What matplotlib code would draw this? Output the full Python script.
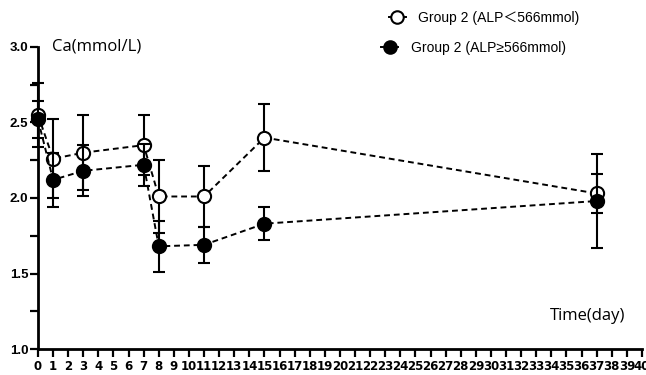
import numpy as np
import matplotlib.pyplot as plt
from matplotlib.lines import Line2D

# days of measurement
days = [0, 1, 3, 7, 8, 11, 15, 37]

# Group 2, ALP < 566
low_mean = [2.55, 2.26, 2.30, 2.35, 2.01, 2.01, 2.40, 2.03]
low_err = [0.21, 0.26, 0.25, 0.20, 0.24, 0.20, 0.22, 0.13]

# Group 2, ALP >= 566
high_mean = [2.52, 2.12, 2.18, 2.22, 1.68, 1.69, 1.83, 1.98]
high_err = [0.12, 0.18, 0.17, 0.14, 0.17, 0.12, 0.11, 0.31]

legend_labels = ["Group 2 (ALP\uff1c566mmol)", "Group 2 (ALP\u2265566mmol)"]

fig = plt.figure(figsize=(6.46, 3.75), dpi=100)
ax = fig.add_axes([0.0588, 0.0693, 0.935, 0.8054])

common = dict(color="black", ls=(0, (3, 2)), lw=1.4, elinewidth=1.5,
              capsize=4.5, capthick=1.5, ms=9.5, mew=1.5, clip_on=False)
ax.errorbar(days, low_mean, yerr=low_err, fmt="o", mfc="white",
            mec="black", zorder=3, **common)
ax.errorbar(days, high_mean, yerr=high_err, fmt="o", mfc="black",
            mec="black", zorder=4, **common)

ax.set_xlim(0, 40)
ax.set_ylim(1.0, 3.0)
ax.set_xticks(np.arange(0, 41, 1))
ax.set_yticks([1.0, 1.5, 2.0, 2.5, 3.0])
ax.set_yticks(np.arange(1.0, 3.01, 0.25), minor=True)

for s in ["top", "right"]:
    ax.spines[s].set_visible(False)
for s in ["left", "bottom"]:
    ax.spines[s].set_linewidth(2)

ax.tick_params(axis="both", which="major", length=6, width=1.6, direction="out")
ax.tick_params(axis="y", which="minor", length=6, width=1.6)
ax.tick_params(axis="x", pad=2)
ax.tick_params(axis="y", pad=1)

for lab in ax.get_xticklabels():
    lab.set_fontfamily(["Liberation Sans Narrow", "DejaVu Sans"])
    lab.set_fontweight("bold")
    lab.set_fontsize(8.5)
for lab in ax.get_yticklabels():
    lab.set_fontfamily("Liberation Sans")
    lab.set_fontweight("bold")
    lab.set_fontsize(9.5)

ax.text(0.024, 1.0, "Ca(mmol/L)", transform=ax.transAxes, fontsize=12,
        family="Open Sans", va="center", ha="left")
ax.text(0.972, 0.109, "Time(day)", transform=ax.transAxes, fontsize=12,
        family="Open Sans", va="center", ha="right")

# two separate legend entries, slightly offset like the original
leg_style = dict(loc="upper left", frameon=False, handlelength=1.2,
                 handletextpad=0.9,
                 prop={"family": ["Liberation Sans", "Noto Sans CJK SC"], "size": 10})
h_low = Line2D([], [], color="black", lw=1.4, marker="o", mfc="white", mec="black", ms=9, mew=1.5)
h_high = Line2D([], [], color="black", lw=1.4, marker="o", mfc="black", mec="black", ms=9, mew=1.5)
fig.legend([h_low], [legend_labels[0]], bbox_to_anchor=(0.583, 1.005), **leg_style)
fig.legend([h_high], [legend_labels[1]], bbox_to_anchor=(0.571, 0.925), **leg_style)

fig.savefig("out.png", dpi=100)
